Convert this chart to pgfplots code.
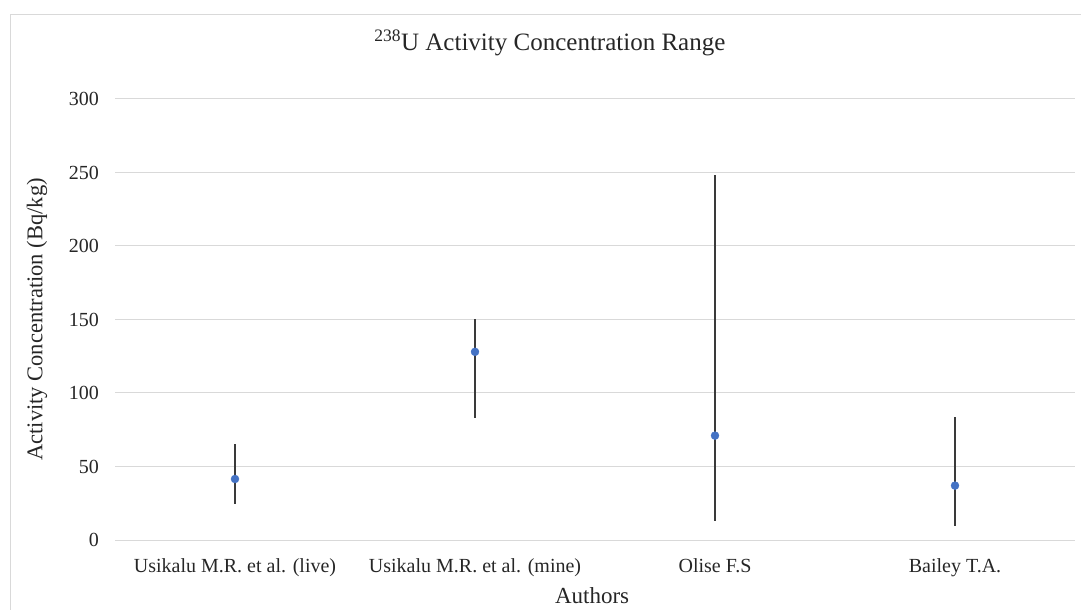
\documentclass[border=0pt]{standalone}
\usepackage{fontspec}
\setmainfont{Liberation Serif}
\usepackage{pgfplots}
\pgfplotsset{compat=1.18}
\definecolor{gridgray}{HTML}{D9D9D9}
\definecolor{markblue}{HTML}{4472C4}
\definecolor{errgray}{HTML}{3A3A3A}
\begin{document}
\begin{tikzpicture}
\path[use as bounding box] (0,0) rectangle (1081bp,610bp);
\draw[gridgray, line width=1bp] (10bp,-2bp) |- (1085bp,595bp);
\begin{axis}[
  at={(115bp,70bp)}, anchor=south west,
  scale only axis, width=960bp, height=441bp,
  xmin=-0.5, xmax=3.5, ymin=0, ymax=300,
  xtick={0,1,2,3},
  xticklabels={Usikalu M.R. et al. (live),Usikalu M.R. et al. (mine),Olise F.S,Bailey T.A.},
  ytick={0,50,100,150,200,250,300},
  major tick length=0pt,
  axis line style={draw=none},
  ymajorgrids, grid style={gridgray, line width=1bp},
  /pgf/number format/assume math mode=true,
  tick label style={font=\fontsize{20bp}{24bp}\selectfont, text=black!85},
  xticklabel style={anchor=base, yshift=-32bp, inner sep=0pt},
  yticklabel style={anchor=east, xshift=-16bp, inner sep=0pt},
  xlabel={Authors},
  xlabel style={at={(axis description cs:0.497,0)}, anchor=base, yshift=-63bp, font=\fontsize{23bp}{27bp}\selectfont, text=black!85},
  ylabel={Activity Concentration (Bq/kg)},
  ylabel style={at={(axis description cs:-0.0813,0.5)}, anchor=center, rotate=0, font=\fontsize{22.5bp}{26bp}\selectfont, text=black!85},
  title={\textsuperscript{238}U Activity Concentration Range},
  title style={at={(axis description cs:0.453,1.096)}, anchor=base, font=\fontsize{25bp}{30bp}\selectfont, text=black!85},
  clip=false,
]
\addplot[only marks, mark=*, mark size=4bp, mark options={fill=markblue, draw=markblue},
  error bars/.cd, y dir=both, y explicit, error mark=none,
  error bar style={errgray, line width=1.4bp}]
  coordinates {
    (0,41.5) += (0,23.5) -= (0,17)
    (1,128) += (0,22) -= (0,45)
    (2,71) += (0,177) -= (0,58)
    (3,37) += (0,47) -= (0,27.5)
  };
\end{axis}
\end{tikzpicture}
\end{document}
